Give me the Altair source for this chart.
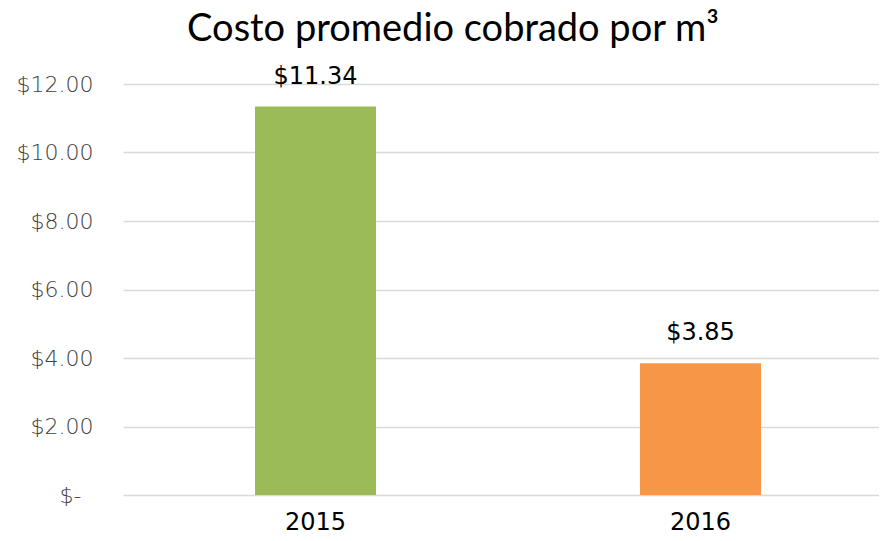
import altair as alt
import pandas as pd

years = ["2015", "2016"]
values = [11.34, 3.85]
labels = ["$11.34", "$3.85"]
colors = ["#9BBB59", "#F79646"]

df = pd.DataFrame({"year": years, "value": values, "label": labels, "color": colors})

TITLE_FONT = "Lato"
FONT = "DejaVu Sans"

x = alt.X("year:N", title=None, sort=years,
          scale=alt.Scale(range=[0, 770], paddingInner=0.686, paddingOuter=0.343),
          axis=alt.Axis(labelAngle=0, labelFontSize=24, labelColor="#000000",
                        labelFont=FONT, labelPadding=15, ticks=False, domain=False))

base = alt.Chart(df)

bars = base.mark_bar(size=121).encode(
    x=x,
    y=alt.Y("value:Q", title=None,
            scale=alt.Scale(domain=[0, 12], nice=False),
            axis=alt.Axis(values=[0, 2, 4, 6, 8, 10, 12],
                          labelExpr="datum.value == 0 ? '$-' : '$' + format(datum.value, '.2f')",
                          labelFontSize=22, labelColor="#404040", labelFont=FONT,
                          labelFontWeight=200,
                          labelPadding={"condition": {"test": "datum.value == 0", "value": 42}, "value": 30},
                          ticks=False, domain=False,
                          grid=True, gridColor="#D9D9D9", gridWidth=1.5)),
    color=alt.Color("color:N", scale=None, legend=None),
)

text = base.mark_text(dy=-18, baseline="bottom", fontSize=24, font=FONT, color="#000000").encode(
    x=x,
    y=alt.Y("value:Q"),
    text="label:N",
)

chart = (bars + text).properties(
    width=756,
    height=411,
    autosize=alt.AutoSizeParams(type="none"),
    padding={"left": 115, "top": 76, "right": 0, "bottom": 40},
    title=alt.TitleParams("Costo promedio cobrado por m³", fontSize=38, font=TITLE_FONT,
                          fontWeight="normal", color="#000000", anchor="middle",
                          dx=-48, offset=16),
).configure_view(stroke=None)

chart.save("out.html", embed_options={"renderer": "svg", "actions": False})
